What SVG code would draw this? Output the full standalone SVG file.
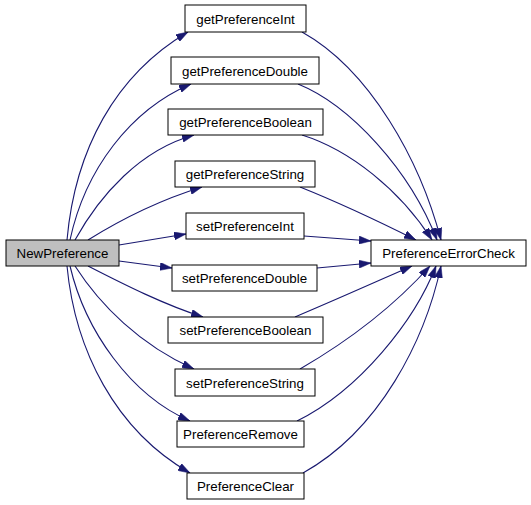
<svg xmlns="http://www.w3.org/2000/svg" width="531" height="505" viewBox="0 0 531 505">
<style>
.n rect{fill:#ffffff;stroke:#000000;stroke-width:1}
.n text{font-family:"Liberation Sans",Arial,Helvetica,sans-serif;font-size:13.33px;fill:#000000;text-anchor:middle}
.e path{fill:none;stroke:#191970;stroke-width:1.1;marker-end:url(#ah)}
</style>
<defs>
<marker id="ah" viewBox="0 0 12 8" markerWidth="12" markerHeight="8" markerUnits="userSpaceOnUse" refX="12" refY="4" orient="auto">
<path d="M0,0 L12,4 L0,8 z" fill="#191970" stroke="#191970" stroke-width="0.5"/>
</marker>
</defs>
<rect width="531" height="505" fill="#ffffff"/>
<g id="edges" class="e">
<path d="M67,240 C75,150 115,75 188,32"/>
<path d="M70,240 C85,170 130,110 191,84"/>
<path d="M75,240 C100,195 140,150 194,135"/>
<path d="M88,240 C120,220 160,200 202,187"/>
<path d="M119,245 L186,234"/>
<path d="M119,261 L172,268"/>
<path d="M88,266 C125,285 165,305 203,317"/>
<path d="M75,266 C100,305 140,345 194,369"/>
<path d="M70,266 C85,330 130,395 190,421"/>
<path d="M67,266 C75,350 115,430 190,473"/>
<path d="M302,32 C370,70 420,160 441,240"/>
<path d="M298,84 C350,105 410,170 437,240"/>
<path d="M302,135 C350,150 400,190 432,240"/>
<path d="M300,187 C340,203 380,222 416,240"/>
<path d="M304,236 L371,241"/>
<path d="M317,268 L371,263"/>
<path d="M295,317 C340,298 380,280 412,266"/>
<path d="M300,369 C350,340 395,305 430,266"/>
<path d="M297,421 C360,390 415,320 436,266"/>
<path d="M303,473 C380,430 425,340 441,266"/>
</g>
<g id="NewPreference" class="n"><rect x="6" y="240" width="113" height="26" style="fill:#bfbfbf"/><text x="62.5" y="258">NewPreference</text></g>
<g id="getPreferenceInt" class="n"><rect x="185" y="5" width="121" height="27"/><text x="245.5" y="23.5">getPreferenceInt</text></g>
<g id="getPreferenceDouble" class="n"><rect x="171" y="57" width="148" height="27"/><text x="245" y="75.5">getPreferenceDouble</text></g>
<g id="getPreferenceBoolean" class="n"><rect x="168" y="109" width="155" height="26"/><text x="245.5" y="127">getPreferenceBoolean</text></g>
<g id="getPreferenceString" class="n"><rect x="175" y="161" width="140" height="26"/><text x="245" y="179">getPreferenceString</text></g>
<g id="setPreferenceInt" class="n"><rect x="186" y="213" width="118" height="26"/><text x="245" y="231">setPreferenceInt</text></g>
<g id="setPreferenceDouble" class="n"><rect x="172" y="265" width="145" height="26"/><text x="244.5" y="283">setPreferenceDouble</text></g>
<g id="setPreferenceBoolean" class="n"><rect x="168" y="317" width="155" height="26"/><text x="245.5" y="335">setPreferenceBoolean</text></g>
<g id="setPreferenceString" class="n"><rect x="175" y="369" width="140" height="27"/><text x="245" y="387.5">setPreferenceString</text></g>
<g id="PreferenceRemove" class="n"><rect x="177" y="421" width="127" height="26"/><text x="240.5" y="439">PreferenceRemove</text></g>
<g id="PreferenceClear" class="n"><rect x="187" y="473" width="117" height="26"/><text x="245.5" y="491">PreferenceClear</text></g>
<g id="PreferenceErrorCheck" class="n"><rect x="371" y="240" width="155" height="26"/><text x="448.5" y="258">PreferenceErrorCheck</text></g>
</svg>
